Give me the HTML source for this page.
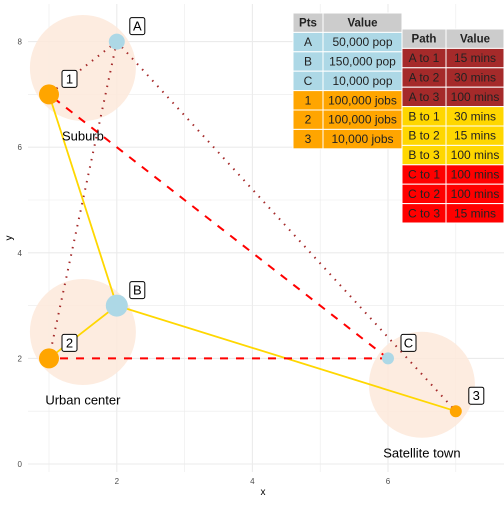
<!DOCTYPE html>
<html><head><meta charset="utf-8"><style>
body{margin:0;background:#fff;font-family:"Liberation Sans",sans-serif}
svg text{font-family:"Liberation Sans",sans-serif}
</style></head><body>
<svg id="chart" width="504" height="504"></svg>
<script>
const ptNames=['A','B','C','1','2','3'];
const ptX=[2,2,6,1,1,7];
const ptY=[8,3,2,7,2,1];
const ptR=[8,11,6,10,10,6];
const ptCol=['#add8e6','#add8e6','#add8e6','#ffa500','#ffa500','#ffa500'];
const regNames=['Suburb','Urban center','Satellite town'];
const regX=[1.5,1.5,6.5];
const regY=[7.5,2.5,1.5];
const regLabY=[6.2,1.2,0.2];
const pathFrom=['A','A','A','B','B','B','C','C'];
const pathTo=['1','2','3','1','2','3','1','2'];
const pathType=['dot','dot','dot','solid','solid','solid','dash','dash'];
const xTicks=[2,4,6];
const yTicks=[0,2,4,6,8];
const pts=[['A','50,000 pop'],['B','150,000 pop'],['C','10,000 pop'],['1','100,000 jobs'],['2','100,000 jobs'],['3','10,000 jobs']];
const paths=[['A to 1','15 mins'],['A to 2','30 mins'],['A to 3','100 mins'],['B to 1','30 mins'],['B to 2','15 mins'],['B to 3','100 mins'],['C to 1','100 mins'],['C to 2','100 mins'],['C to 3','15 mins']];
const pathCol=['#a52a2a','#a52a2a','#a52a2a','#ffd700','#ffd700','#ffd700','#ff0000','#ff0000','#ff0000'];

const X=v=>49+(v-1)*67.8;
const Y=v=>464-v*52.8;
const svg=document.getElementById('chart');
const NS='http://www.w3.org/2000/svg';
function mk(t,a,p){const e=document.createElementNS(NS,t);for(const k in a)e.setAttribute(k,a[k]);(p||svg).appendChild(e);return e;}
// grid
for(let v=1;v<=7;v++){const l=mk('line',{x1:X(v),x2:X(v),y1:4,y2:472,stroke:'#ebebeb','stroke-width':v%2?0.6:1.1});

}
for(let v=0;v<=8;v++){const l=mk('line',{x1:28,x2:504,y1:Y(v),y2:Y(v),stroke:'#ebebeb','stroke-width':v%2?0.6:1.1});

}
xTicks.forEach(v=>{const t=mk('text',{x:X(v),y:484,'font-size':8,fill:'#4d4d4d','text-anchor':'middle'});t.textContent=v;

});
yTicks.forEach(v=>{const t=mk('text',{x:22,y:Y(v)+3,'font-size':8,fill:'#4d4d4d','text-anchor':'end'});t.textContent=v;

});
let xt=mk('text',{x:263,y:495,'font-size':10,'text-anchor':'middle'});xt.textContent='x';


let yt=mk('text',{x:12,y:238,'font-size':10,'text-anchor':'middle',transform:'rotate(-90 12 238)'});yt.textContent='y';


// regions
regNames.forEach((n,i)=>{const c=mk('circle',{cx:X(regX[i]),cy:Y(regY[i]),r:53,fill:'#fde9da',opacity:0.85});

});
const idx=n=>ptNames.indexOf(n);
pathFrom.forEach((f,i)=>{const a=idx(f),b=idx(pathTo[i]);const ty=pathType[i];
const l=mk('line',{x1:X(ptX[a]),y1:Y(ptY[a]),x2:X(ptX[b]),y2:Y(ptY[b]),
stroke:ty==='dot'?'#a52a2a':ty==='dash'?'#ff0000':'#ffd700','stroke-width':ty==='solid'?1.8:ty==='dash'?2:2,
'stroke-dasharray':ty==='dot'?'1.5 6':ty==='dash'?'8 8':'none'});

});
regNames.forEach((n,i)=>{const t=mk('text',{x:X(regX[i]),y:Y(regLabY[i])+4,'font-size':13,'text-anchor':'middle'});t.textContent=n;

});
ptNames.forEach((n,i)=>{const c=mk('circle',{cx:X(ptX[i]),cy:Y(ptY[i]),r:ptR[i],fill:ptCol[i]});


const lx=X(ptX[i])+20,ly=Y(ptY[i])-16;
const r=mk('rect',{x:lx-7,y:ly-8,width:15,height:17,rx:2,fill:'#fff',stroke:'#000','stroke-width':1});


const t=mk('text',{x:lx+0.5,y:ly+5,'font-size':13,'text-anchor':'middle'});t.textContent=n;

});
// tables
function table(x,y,cw,rows,hdr,cols,rh,name){
const g=mk('g',{});
const all=[hdr].concat(rows);
all.forEach((row,ri)=>{let cx=x;row.forEach((cell,ci)=>{
const r=mk('rect',{x:cx,y:y+ri*rh,width:cw[ci],height:rh,fill:ri===0?'#cccccc':cols[ri-1],stroke:'#fff','stroke-width':1},g);
const t=mk('text',{x:cx+cw[ci]/2,y:y+ri*rh+rh/2+4,'font-size':ri===0?11.5:12,'font-weight':ri===0?'bold':'normal','text-anchor':'middle',fill:'#222'},g);t.textContent=cell;


cx+=cw[ci];});});}
table(293,13,[30,79],pts,['Pts','Value'],ptCol.map((c,i)=>i<3?'#add8e6':'#ffa500'),19.4,'points-table');
table(402,29,[44,58],paths,['Path','Value'],pathCol,19.4,'paths-table');
</script>
</body></html>
